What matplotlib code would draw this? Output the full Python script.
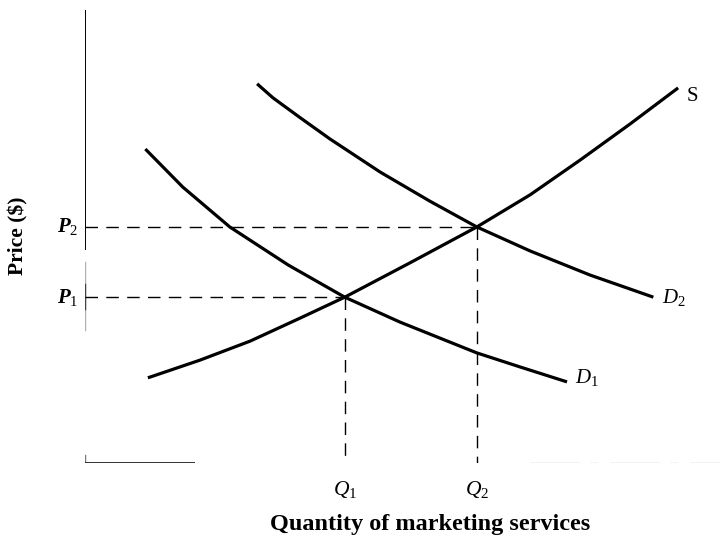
import matplotlib
matplotlib.use("Agg")
import matplotlib.pyplot as plt

plt.rcParams["font.family"] = "Liberation Serif"
plt.rcParams["mathtext.fontset"] = "custom"
plt.rcParams["mathtext.rm"] = "Liberation Serif"
plt.rcParams["mathtext.it"] = "Liberation Serif:italic"
plt.rcParams["mathtext.bf"] = "Liberation Serif:italic:bold"

# curves (quantity, price)
supply_q = [0.99, 1.81, 2.60, 3.39, 4.09, 5.12, 6.17, 7.01, 7.80, 8.58, 9.34]
supply_p = [1.88, 2.27, 2.69, 3.20, 3.66, 4.42, 5.21, 5.92, 6.69, 7.48, 8.28]

d1_q = [0.95, 1.54, 2.28, 3.20, 4.09, 4.96, 6.17, 6.85, 7.59]
d1_p = [6.93, 6.09, 5.21, 4.37, 3.66, 3.11, 2.43, 2.12, 1.79]

d2_q = [2.71, 2.96, 3.39, 3.86, 4.65, 5.43, 6.17, 7.01, 7.95, 8.95]
d2_p = [8.37, 8.06, 7.62, 7.15, 6.42, 5.78, 5.21, 4.68, 4.15, 3.66]

eq_q = [4.09, 6.17]
eq_p = [3.66, 5.21]
q_labels = [r"$Q_1$", r"$Q_2$"]
p_labels = [r"$\mathbf{P}_1$", r"$\mathbf{P}_2$"]

fig = plt.figure(figsize=(7.26, 5.42), dpi=100)
ax = fig.add_axes([0.1171, 0.1458, 0.8747, 0.8358])
ax.set_xlim(0, 10)
ax.set_ylim(0, 10)
ax.axis("off")

# scanned-looking axes
ax.plot([0, 0], [4.70, 10], color="black", lw=1.4, solid_capstyle="butt")
ax.plot([0, 0], [2.94, 4.44], color="#b0b0b0", lw=1.0)
ax.plot([0, 0], [3.40, 3.95], color="#444444", lw=1.0)
ax.plot([0, 0], [0, 0.18], color="#777777", lw=1.0)
ax.plot([0, 1.73], [0, 0], color="#222222", lw=1.3, solid_capstyle="butt")
ax.plot([7.0, 10.0], [0, 0], color="#999999", lw=0.9, dashes=(40, 8, 6, 10))

line_kw = dict(color="black", lw=2.3, solid_capstyle="butt", solid_joinstyle="round")
ax.plot(supply_q, supply_p, **line_kw)
ax.plot(d1_q, d1_p, **line_kw)
ax.plot(d2_q, d2_p, **line_kw)

for q, p, ql, pl in zip(eq_q, eq_p, q_labels, p_labels):
    ax.plot([0, q], [p, p], color="black", lw=1.0, dashes=(9, 6))
    ax.plot([q, q], [p, -0.18], color="black", lw=1.0, dashes=(9, 6))
    ax.annotate(ql, (q, 0), xytext=(0, -19), textcoords="offset points",
                ha="center", va="center", fontsize=15.5)
    ax.annotate(pl, (0, p), xytext=(-5, 0), textcoords="offset points",
                ha="right", va="center", fontsize=15)

ax.annotate("S", (supply_q[-1], supply_p[-1]), xytext=(6, -6),
            textcoords="offset points", ha="left", va="center", fontsize=15)
ax.annotate(r"$D_1$", (d1_q[-1], d1_p[-1]), xytext=(6, 3),
            textcoords="offset points", ha="left", va="center", fontsize=15)
ax.annotate(r"$D_2$", (d2_q[-1], d2_p[-1]), xytext=(6, 0),
            textcoords="offset points", ha="left", va="center", fontsize=15)

fig.text(0.025, 0.565, "Price ($)", rotation=90, ha="center", va="center",
         fontsize=15.5, fontweight="bold")
fig.text(0.592, 0.032, "Quantity of marketing services", ha="center", va="center",
         fontsize=17.5, fontweight="bold")

fig.savefig("out.png", dpi=100, facecolor="white")
